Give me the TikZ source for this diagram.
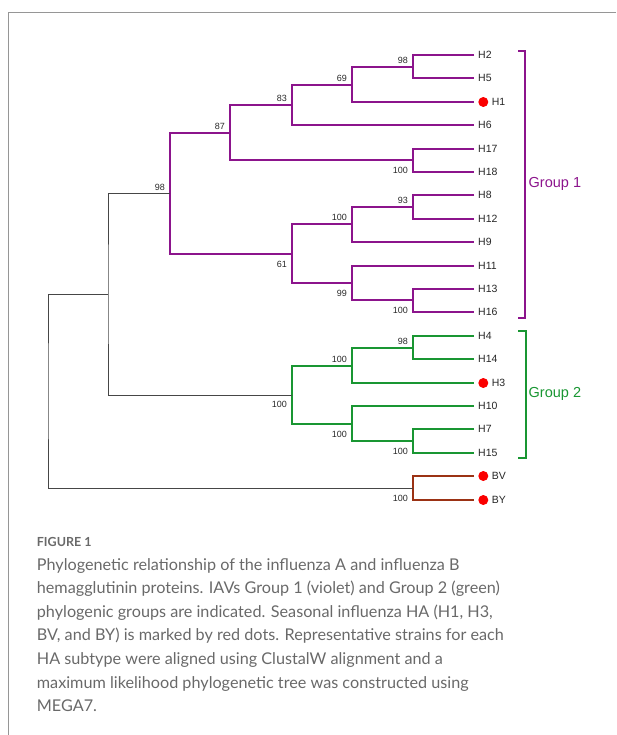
\documentclass[tikz,border=0pt]{standalone}
\usepackage{fontspec}
\setmainfont{Liberation Sans}
\newfontfamily\capfont{Lato}
\definecolor{grpone}{RGB}{140,20,140}
\definecolor{grptwo}{RGB}{25,150,50}
\definecolor{grpb}{RGB}{155,50,20}
\definecolor{blk}{RGB}{70,70,70}
\definecolor{framecol}{RGB}{150,150,150}
\definecolor{captxt}{RGB}{105,105,105}
\definecolor{dotred}{RGB}{250,0,0}
\definecolor{bootcol}{RGB}{40,40,40}
\begin{document}
\begin{tikzpicture}[x=1pt,y=-1pt,
  brone/.style={draw=grpone,line width=2pt},
  brtwo/.style={draw=grptwo,line width=2pt},
  brb/.style={draw=grpb,line width=2pt},
  brk/.style={draw=blk,line width=1pt},
  leaflab/.style={anchor=west,inner sep=0pt,font=\fontsize{10.5}{12}\selectfont,text=black!85},
  boot/.style={inner sep=0pt,font=\fontsize{9}{10}\selectfont,text=bootcol},
  bup/.style={boot,anchor=east},
  redot/.style={circle,fill=dotred,inner sep=0pt,minimum size=10pt},
  grplab/.style={anchor=west,inner sep=0pt,font=\fontsize{14.5}{16}\selectfont},
  capline/.style={anchor=base west,inner sep=0pt,font=\capfont\fontsize{16.2}{19}\selectfont,text=captxt}
]
\useasboundingbox (0,0) rectangle (616,735);
% frame
\draw[framecol,line width=1pt] (616,12.5) -- (8.5,12.5) -- (8.5,735);

% leaves
\foreach \nm/\yy/\d in {H2/55/0,H5/78/0,H1/102/1,H6/125/0,H17/149/0,H18/172/0,H8/195/0,H12/219/0,H9/242/0,H11/266/0,H13/289/0,H16/312/0,H4/336/0,H14/359/0,H3/383/1,H10/406/0,H7/429/0,H15/453/0,BV/476/1,BY/500/1}{
  \coordinate (L\nm) at (474,\yy);
  \ifnum\d=1
    \node[redot] (dot\nm) at (483.3,\yy) {};
    \node[leaflab] (t\nm) at (491.7,\yy) {\nm};
  \else
    \node[leaflab] (t\nm) at (478,\yy) {\nm};
  \fi
}

% internal nodes
\coordinate (n25) at (413,67);
\coordinate (n69) at (352,85);
\coordinate (n83) at (292,105);
\coordinate (n1718) at (413,160);
\coordinate (n87) at (230,133);
\coordinate (n812) at (413,207);
\coordinate (nA100) at (352,224);
\coordinate (n1316) at (413,300);
\coordinate (n99) at (352,283);
\coordinate (n61) at (292,254);
\coordinate (g1) at (170,194);
\coordinate (n414) at (413,348);
\coordinate (nB100) at (352,366);
\coordinate (n715) at (413,441);
\coordinate (nC100) at (352,424);
\coordinate (g2) at (292,395);
\coordinate (nA) at (108,294);
\coordinate (nB) at (413,488);
\coordinate (root) at (48,391);

% group 1
\draw[brone] (LH2) -| (n25) |- (LH5);
\draw[brone] (n25) -| (n69) |- (LH1);
\draw[brone] (n69) -| (n83) |- (LH6);
\draw[brone] (LH17) -| (n1718) |- (LH18);
\draw[brone] (n83) -| (n87) |- (n1718);
\draw[brone] (LH8) -| (n812) |- (LH12);
\draw[brone] (n812) -| (nA100) |- (LH9);
\draw[brone] (LH13) -| (n1316) |- (LH16);
\draw[brone] (LH11) -| (n99) |- (n1316);
\draw[brone] (nA100) -| (n61) |- (n99);
\draw[brone] (n87) -| (g1) |- (n61);
% group 2
\draw[brtwo] (LH4) -| (n414) |- (LH14);
\draw[brtwo] (n414) -| (nB100) |- (LH3);
\draw[brtwo] (LH7) -| (n715) |- (LH15);
\draw[brtwo] (LH10) -| (nC100) |- (n715);
\draw[brtwo] (nB100) -| (g2) |- (nC100);
% B
\draw[brb] (LBV) -| (nB) |- (LBY);
% black
\draw[brk] (g1) -| (nA) |- (g2);
\draw[brk] (nA) -| (root) |- (nB);

% bootstrap labels
\node[bup] (b1) at ([xshift=-5pt,yshift=7pt]n25) {98};
\node[bup] (b2) at ([xshift=-5pt,yshift=7pt]n69) {69};
\node[bup] (b3) at ([xshift=-5pt,yshift=7pt]n83) {83};
\node[bup] (b4) at ([xshift=-5pt,yshift=7pt]n87) {87};
\node[bup] (b5) at ([xshift=-5pt,yshift=-10pt]n1718) {100};
\node[bup] (b6) at ([xshift=-5pt,yshift=7pt]g1) {98};
\node[bup] (b7) at ([xshift=-5pt,yshift=7pt]n812) {93};
\node[bup] (b8) at ([xshift=-5pt,yshift=7pt]nA100) {100};
\node[bup] (b9) at ([xshift=-5pt,yshift=-10pt]n61) {61};
\node[bup] (b10) at ([xshift=-5pt,yshift=-10pt]n99) {99};
\node[bup] (b11) at ([xshift=-5pt,yshift=-10pt]n1316) {100};
\node[bup] (b12) at ([xshift=-5pt,yshift=7pt]n414) {98};
\node[bup] (b13) at ([xshift=-5pt,yshift=7pt]nB100) {100};
\node[bup] (b14) at ([xshift=-5pt,yshift=-9pt]g2) {100};
\node[bup] (b15) at ([xshift=-5pt,yshift=-10pt]nC100) {100};
\node[bup] (b16) at ([xshift=-5pt,yshift=-10pt]n715) {100};
\node[bup] (b17) at ([xshift=-5pt,yshift=-10pt]nB) {100};

% group brackets
\draw[grpone,line width=2pt] (518,51) -- (525,51) -- (525,318) -- (518,318);
\node[grplab,text=grpone] (grp1) at (528.5,183.5) {Group 1};
\draw[grptwo,line width=2pt] (518,331) -- (526,331) -- (526,458) -- (518,458);
\node[grplab,text=grptwo] (grp2) at (528.5,394) {Group 2};

% caption
\node[anchor=base west,inner sep=0pt,font=\capfont\bfseries\fontsize{12.5}{14}\selectfont,text=captxt] (fig) at (36.7,546) {FIGURE 1};
\node[capline] (c1) at (36.7,570) {Phylogenetic relationship of the influenza A and influenza B};
\node[capline] (c2) at (36.7,593.6) {hemagglutinin proteins. IAVs Group 1 (violet) and Group 2 (green)};
\node[capline] (c3) at (36.7,617.2) {phylogenic groups are indicated. Seasonal influenza HA (H1, H3,};
\node[capline] (c4) at (36.7,640.8) {BV, and BY) is marked by red dots. Representative strains for each};
\node[capline] (c5) at (36.7,664.4) {HA subtype were aligned using ClustalW alignment and a};
\node[capline] (c6) at (36.7,688) {maximum likelihood phylogenetic tree was constructed using};
\node[capline] (c7) at (36.7,711.6) {MEGA7.};
\end{tikzpicture}
\end{document}
